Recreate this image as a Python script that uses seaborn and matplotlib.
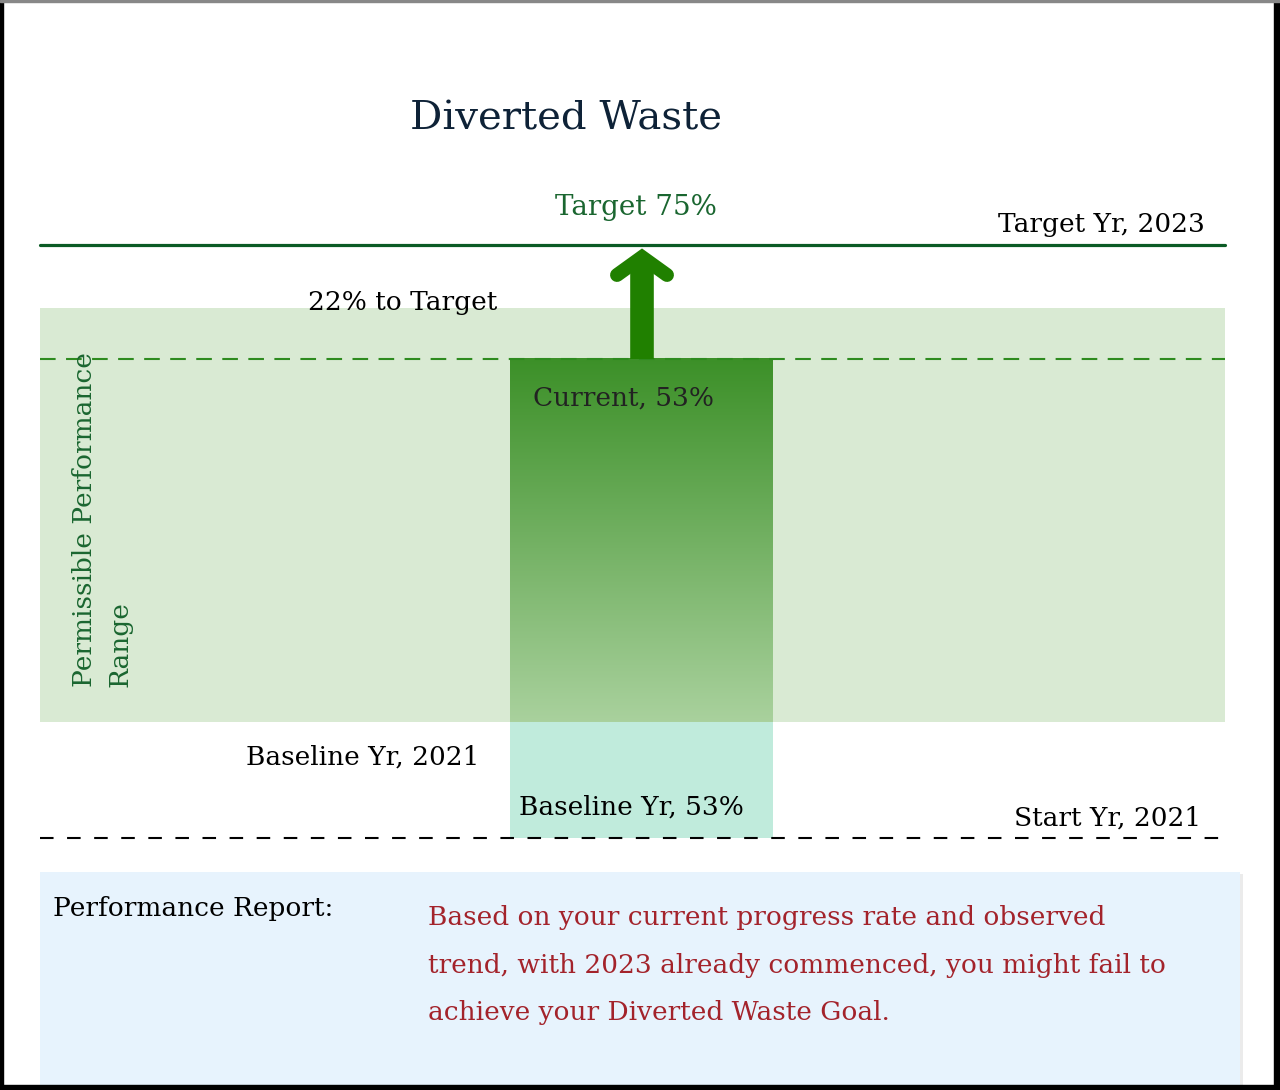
import numpy as np
import matplotlib
matplotlib.use("Agg")
import matplotlib.pyplot as plt
import seaborn as sns
from matplotlib.colors import LinearSegmentedColormap
from matplotlib.patches import Rectangle

# --- data ---
metric = "Diverted Waste"
target_pct = 75
current_pct = 53
baseline_pct = 53
baseline_year = 2021
start_year = 2021
target_year = 2023
range_label = ["Permissible Performance", "Range"]
report_label = "Performance Report:"
report_lines = [
    "Based on your current progress rate and observed",
    "trend, with 2023 already commenced, you might fail to",
    "achieve your Diverted Waste Goal.",
]
gap_pct = target_pct - current_pct

W, H = 1280, 1090
sns.set_theme(style="white")
plt.rcParams['font.family'] = ['DejaVu Serif']

fig = plt.figure(figsize=(W / 100, H / 100), dpi=100)
ax = fig.add_axes([0, 0, 1, 1])

# vertical scale in percent: target sits at 245px, current at 359px from the top
px_per_pct = (359 - 245) / (target_pct - current_pct)
y_top = target_pct + 245 / px_per_pct


def ypx(p):
    # layout helper: pixel row -> y value
    return y_top - p / px_per_pct


x0, x1 = 40, 1225
bar_l, bar_r = 510, 773
band_top, band_bot, start_row = ypx(308), ypx(722), ypx(838)

# permissible range band
ax.fill_between([x0, x1], band_bot, band_top, color="#d9ead3", lw=0, zorder=1)

# current bar with gradient
cmap = LinearSegmentedColormap.from_list("cur", ["#a9d19d", "#3c9028"])
grad = np.linspace(0, 1, 256).reshape(-1, 1)
ax.imshow(grad, extent=[bar_l, bar_r, band_bot, current_pct], origin="lower",
          cmap=cmap, aspect="auto", zorder=2)

# baseline bar
ax.bar((bar_l + bar_r) / 2, band_bot - start_row, bottom=start_row,
       width=bar_r - bar_l, color="#c0ebdc", lw=0, zorder=2)

# target line and dashed reference lines
sns.lineplot(x=[x0, x1], y=[target_pct, target_pct], color="#0b5b25", lw=2.3, ax=ax, zorder=3)
ax.plot([x0, x1], [current_pct, current_pct], color="#2e8b1f", lw=1.5,
        linestyle=(0, (7.5, 5)), zorder=3)
ax.plot([x0, x1], [start_row, start_row], color="black", lw=1.5,
        linestyle=(0, (6.5, 6.5)), zorder=3)

# arrow from current to target
ax_x = 642
ax.plot([ax_x, ax_x], [current_pct, ypx(258)], color="#208000", lw=17,
        solid_capstyle="butt", zorder=4)
ax.plot([ax_x - 25, ax_x, ax_x + 25], [ypx(275), ypx(257), ypx(275)],
        color="#208000", lw=10, solid_capstyle="round", solid_joinstyle="miter", zorder=4)

# texts
fs = 19
ax.text(566, ypx(129), metric, ha="center", va="baseline", fontsize=29, color="#0e2237")
ax.text(636, ypx(215), f"Target {target_pct}%", ha="center", va="baseline",
        fontsize=20, color="#1a6630")
ax.text(1205, ypx(232), f"Target Yr, {target_year}", ha="right", va="baseline",
        fontsize=fs, color="black")
ax.text(308, ypx(310), f"{gap_pct}% to Target", ha="left", va="baseline",
        fontsize=fs, color="black")
ax.text(533, ypx(406), f"Current, {current_pct}%", ha="left", va="baseline",
        fontsize=fs, color="#222222", zorder=5)
ax.text(479, ypx(765), f"Baseline Yr, {baseline_year}", ha="right", va="baseline",
        fontsize=fs, color="black")
ax.text(519, ypx(815), f"Baseline Yr, {baseline_pct}%", ha="left", va="baseline",
        fontsize=fs, color="black", zorder=5)
ax.text(1201, ypx(826), f"Start Yr, {start_year}", ha="right", va="baseline",
        fontsize=fs, color="black")
for xb, line in zip([92, 127], range_label):
    ax.text(xb, ypx(687), line, rotation=90, rotation_mode="anchor", ha="left",
            va="baseline", fontsize=fs, color="#1a6630")

# report box
ax.add_patch(Rectangle((x0 + 3, ypx(H + 10)), 1200, ypx(874) - ypx(H + 10),
                       color="#000000", alpha=0.08, lw=0, zorder=5))
ax.add_patch(Rectangle((x0, ypx(H + 10)), 1200, ypx(872) - ypx(H + 10),
                       color="#e7f3fd", lw=0, zorder=6))
ax.text(53, ypx(916), report_label, ha="left", va="baseline", fontsize=fs,
        color="black", zorder=7)
for i, line in enumerate(report_lines):
    ax.text(428, ypx(925 + 47.5 * i), line, ha="left", va="baseline", fontsize=fs,
            color="#a3232b", zorder=7)

ax.set_xlim(0, W)
ax.set_ylim(ypx(H), ypx(0))
ax.axis("off")

# frame around the picture
tf = fig.transFigure
fig.patches.extend([
    Rectangle((0, 0), 3 / W, 1, transform=tf, color="black", zorder=10),
    Rectangle((1 - 6 / W, 0), 6 / W, 1, transform=tf, color="black", zorder=10),
    Rectangle((0, 0), 1, 5 / H, transform=tf, color="black", zorder=10),
    Rectangle((0, 1 - 2 / H), 1, 2 / H, transform=tf, color="#888888", zorder=10),
])

fig.savefig("out.png", dpi=100)
